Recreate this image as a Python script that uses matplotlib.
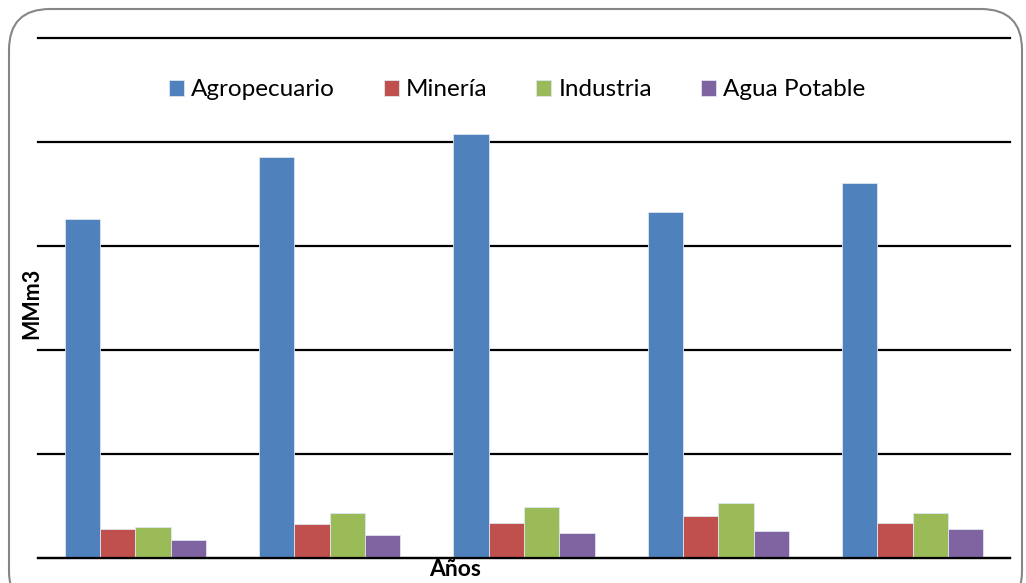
import numpy as np
import matplotlib.pyplot as plt
from matplotlib.patches import FancyBboxPatch

# Values (MMm3, gridline step = 1000)
years = ["1", "2", "3", "4", "5"]
agropecuario = [3260, 3855, 4080, 3325, 3605]
mineria = [275, 325, 335, 400, 335]
industria = [300, 430, 490, 530, 430]
agua_potable = [170, 220, 240, 255, 275]

series = [
    ("Agropecuario", agropecuario, "#4F81BD"),
    ("Minería", mineria, "#C0504D"),
    ("Industria", industria, "#9BBB59"),
    ("Agua Potable", agua_potable, "#8064A2"),
]

plt.rcParams['font.family'] = ['Lato', 'DejaVu Sans']

fig = plt.figure(figsize=(10.26, 5.83), dpi=100)

# rounded chart border
border = FancyBboxPatch((9 / 1026, -0.05), 1013 / 1026, 1 - 9 / 583 + 0.05,
                        boxstyle="round,pad=0,rounding_size=0.04",
                        transform=fig.transFigure, facecolor="white",
                        edgecolor="#868686", linewidth=1.5, mutation_aspect=1026 / 583,
                        zorder=-1)
fig.patches.append(border)

ax = fig.add_axes([38 / 1026, 1 - 557.7 / 583, 972 / 1026, 519.7 / 583])
ax.set_facecolor("none")

x = np.arange(len(years))
w = 1 / 5.5
for i, (name, vals, col) in enumerate(series):
    ax.bar(x + (i - 1.5) * w, vals, width=w, color=col, edgecolor="#dfe6f0",
           linewidth=0.6, label=name, zorder=3)

ax.set_xlim(-0.5, 4.5)
ax.set_ylim(0, 5000)
ax.set_yticks(np.arange(0, 5001, 1000))
ax.yaxis.grid(True, color="black", linewidth=1.6, zorder=1)
ax.set_axisbelow(True)
for gl in ax.get_ygridlines():
    gl.set_clip_on(False)
ax.set_xticks([])
ax.tick_params(axis="y", length=0, labelleft=False)
for s in ["top", "right", "left"]:
    ax.spines[s].set_visible(False)
ax.spines["bottom"].set_linewidth(1.6)
ax.spines["bottom"].set_zorder(4)

ax.legend(loc="center", bbox_to_anchor=(0.493, 0.9), ncol=4, frameon=False,
          fontsize=17.5, handlelength=0.62, handleheight=0.62, handletextpad=0.3,
          columnspacing=2.0)

fig.text(32 / 1026, 1 - 303 / 583, "MMm3", rotation=90, fontsize=15.5,
         fontweight="bold", ha="center", va="center")
fig.text(455 / 1026, 1 - 569 / 583, "Años", fontsize=16.5, fontweight="bold",
         ha="center", va="center")

fig.savefig("out.png", dpi=100)
